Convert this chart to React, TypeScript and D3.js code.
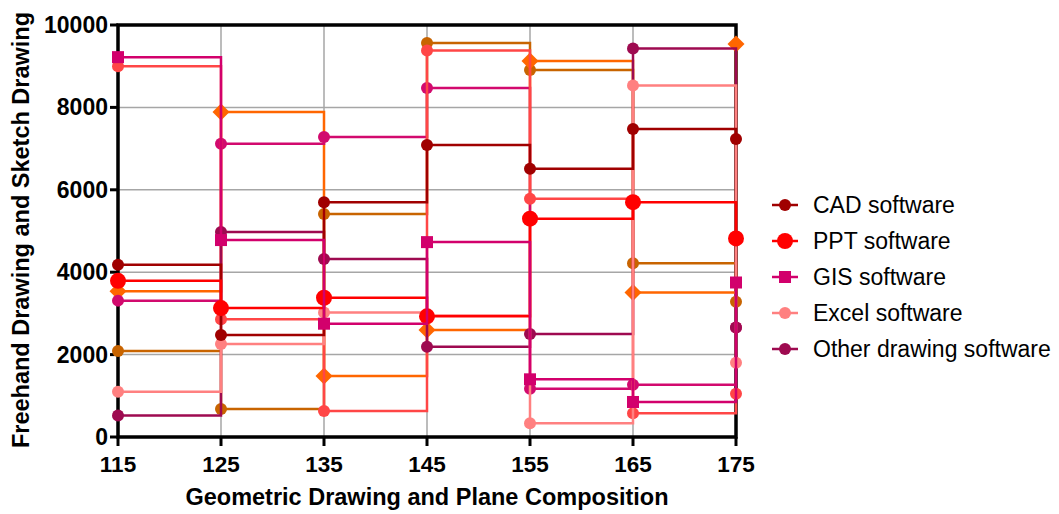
import * as d3 from 'd3'

// x positions (Geometric Drawing and Plane Composition)
const xValues = [115, 125, 135, 145, 155, 165, 175]
const yTicks = [0, 2000, 4000, 6000, 8000, 10000]

// series values
const cadValues = [4180, 2475, 5700, 7090, 6512, 7475, 7233]
const pptValues = [3790, 3130, 3380, 2930, 5300, 5700, 4820]
const gisValues = [9220, 4780, 2750, 4730, 1400, 850, 3750]
const excelValues = [1100, 2257, 3020, 2950, 332, 8530, 1800]
const otherValues = [520, 4976, 4320, 2190, 2500, 9430, 2660]
// unlabelled series (not in legend)
const brownValues = [2090, 680, 5410, 9563, 8907, 4215, 3280]
const orangeValues = [3540, 7890, 1480, 2600, 9126, 3510, 9540]
const magentaValues = [3310, 7120, 7280, 8470, 1173, 1270, 2660]
const coralValues = [9000, 2860, 630, 9380, 5785, 575, 1050]

type Shape = 'circle' | 'bigcircle' | 'square' | 'diamond'
interface Series { name: string; values: number[]; color: string; shape: Shape; legend: boolean }

// drawing order (bottom to top)
const series: Series[] = [
  { name: 'brown', values: brownValues, color: '#c86400', shape: 'circle', legend: false },
  { name: 'orange', values: orangeValues, color: '#ff6600', shape: 'diamond', legend: false },
  { name: 'magenta', values: magentaValues, color: '#d20a6e', shape: 'circle', legend: false },
  { name: 'coral', values: coralValues, color: '#ff4646', shape: 'circle', legend: false },
  { name: 'Other drawing software', values: otherValues, color: '#9e0a50', shape: 'circle', legend: true },
  { name: 'Excel software', values: excelValues, color: '#ff8080', shape: 'circle', legend: true },
  { name: 'CAD software', values: cadValues, color: '#a00000', shape: 'circle', legend: true },
  { name: 'PPT software', values: pptValues, color: '#ff0000', shape: 'bigcircle', legend: true },
  { name: 'GIS software', values: gisValues, color: '#d2006c', shape: 'square', legend: true },
]

const legendOrder = ['CAD software', 'PPT software', 'GIS software', 'Excel software', 'Other drawing software']

const FONT = '"Liberation Sans", Arial, Helvetica, sans-serif'

const Marker = ({ x, y, shape, color }: { x: number; y: number; shape: Shape; color: string }) => {
  if (shape === 'square') return <rect x={x - 6} y={y - 6} width={12} height={12} fill={color} />
  if (shape === 'diamond')
    return <path d={`M${x},${y - 8.5}L${x + 8.5},${y}L${x},${y + 8.5}L${x - 8.5},${y}Z`} fill={color} />
  return <circle cx={x} cy={y} r={shape === 'bigcircle' ? 8 : 6} fill={color} />
}

export default function App() {
  const left = 118, right = 736, top = 25, bottom = 437
  const x = d3.scaleLinear().domain([115, 175]).range([left, right])
  const y = d3.scaleLinear().domain([0, 10000]).range([bottom, top])

  const line = d3
    .line<number>()
    .x((_, i) => x(xValues[i]))
    .y((d) => y(d))
    .curve(d3.curveStepAfter)

  return (
    <svg width={1059} height={514} style={{ position: 'absolute', left: 0, top: 0, fontFamily: FONT }}>
      <rect width={1059} height={514} fill="#fff" />

      {/* grid */}
      {yTicks.slice(1, -1).map((t) => (
        <line key={'gy' + t} x1={left} x2={right} y1={y(t)} y2={y(t)} stroke="#a6a6a6" strokeWidth={1.5} />
      ))}
      {xValues.slice(1, -1).map((t) => (
        <line key={'gx' + t} x1={x(t)} x2={x(t)} y1={top} y2={bottom} stroke="#a6a6a6" strokeWidth={1.5} />
      ))}

      {/* frame */}
      <rect x={left} y={top} width={right - left} height={bottom - top} fill="none" stroke="#000" strokeWidth={3.5} />

      {/* ticks */}
      {yTicks.map((t) => (
        <g key={'ty' + t}>
          <line x1={left - 8} x2={left} y1={y(t)} y2={y(t)} stroke="#000" strokeWidth={3} />
          <text x={left - 10} y={y(t) + 8} textAnchor="end" fontSize={23} fontWeight="bold">
            {t}
          </text>
        </g>
      ))}
      {xValues.map((t) => (
        <g key={'tx' + t}>
          <line x1={x(t)} x2={x(t)} y1={bottom} y2={bottom + 9} stroke="#000" strokeWidth={3} />
          <text x={x(t)} y={472} textAnchor="middle" fontSize={22.5} fontWeight="bold">
            {t}
          </text>
        </g>
      ))}

      {/* axis titles */}
      <text x={427} y={505} textAnchor="middle" fontSize={23.5} fontWeight="bold">
        Geometric Drawing and Plane Composition
      </text>
      <text transform={`translate(29,230) rotate(-90)`} textAnchor="middle" fontSize={23.5} fontWeight="bold">
        Freehand Drawing and Sketch Drawing
      </text>

      {/* series */}
      {series.map((s) => (
        <g key={s.name}>
          <path d={line(s.values) || ''} fill="none" stroke={s.color} strokeWidth={2.5} />
          {s.values.map((v, i) => (
            <Marker key={i} x={x(xValues[i])} y={y(v)} shape={s.shape} color={s.color} />
          ))}
        </g>
      ))}

      {/* legend */}
      {legendOrder.map((name, i) => {
        const s = series.find((d) => d.name === name)!
        const cy = 205 + i * 36
        return (
          <g key={name}>
            <line x1={772} x2={798} y1={cy} y2={cy} stroke={s.color} strokeWidth={2.5} />
            <Marker x={785} y={cy} shape={s.shape} color={s.color} />
            <text x={813} y={cy + 8} fontSize={23}>
              {name}
            </text>
          </g>
        )
      })}
    </svg>
  )
}
